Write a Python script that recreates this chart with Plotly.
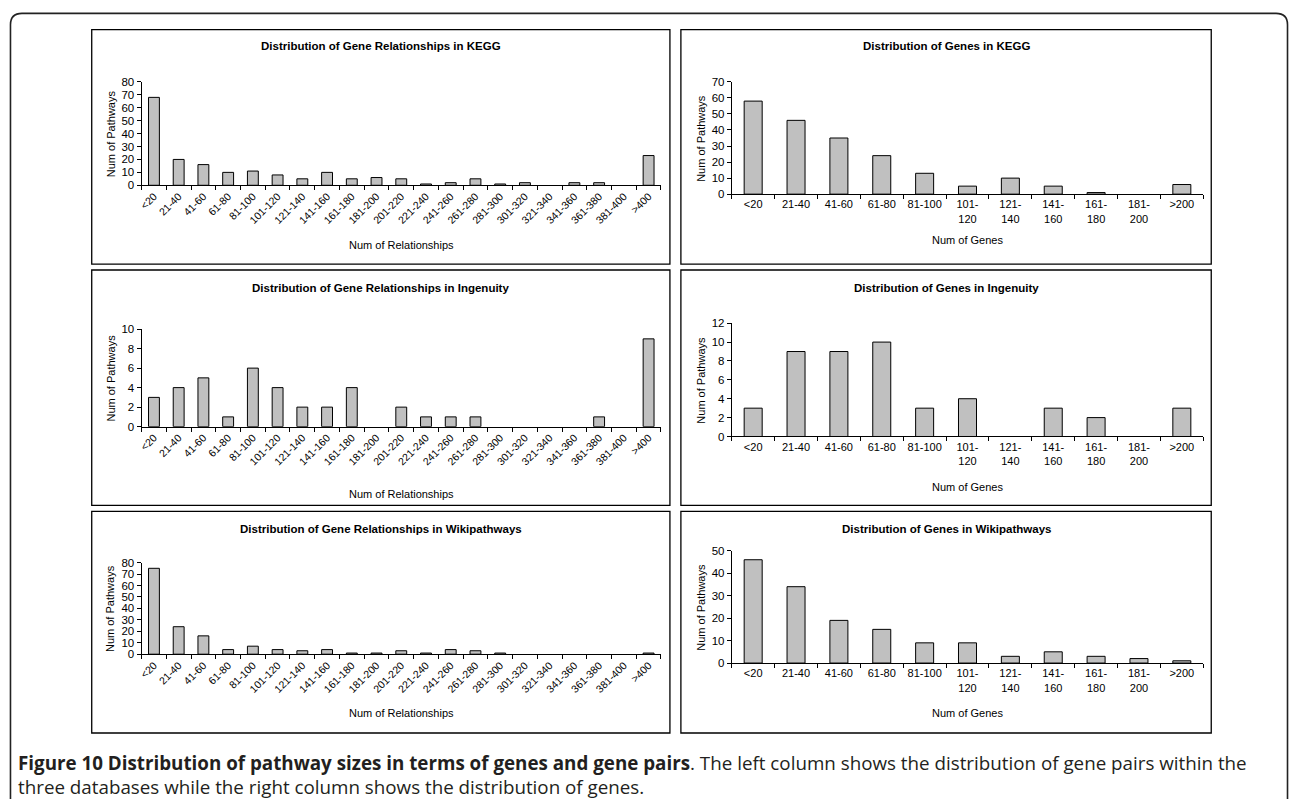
import plotly.graph_objects as go

W, H = 1289, 805

# ---------------- data ----------------
rel_cats = ["<20", "21-40", "41-60", "61-80", "81-100", "101-120", "121-140", "141-160",
            "161-180", "181-200", "201-220", "221-240", "241-260", "261-280", "281-300",
            "301-320", "321-340", "341-360", "361-380", "381-400", ">400"]
gene_cats = ["<20", "21-40", "41-60", "61-80", "81-100", "101-120", "121-140", "141-160",
             "161-180", "181-200", ">200"]
gene_ticktext = ["<20", "21-40", "41-60", "61-80", "81-100", "101-<br>120", "121-<br>140",
                 "141-<br>160", "161-<br>180", "181-<br>200", ">200"]

kegg_rel = [68, 20, 16, 10, 11, 8, 5, 10, 5, 6, 5, 1, 2, 5, 1, 2, 0, 2, 2, 0, 23]
ing_rel = [3, 4, 5, 1, 6, 4, 2, 2, 4, 0, 2, 1, 1, 1, 0, 0, 0, 0, 1, 0, 9]
wiki_rel = [75, 24, 16, 4, 7, 4, 3, 4, 1, 1, 3, 1, 4, 3, 1, 0, 0, 0, 0, 0, 1]

kegg_gene = [58, 46, 35, 24, 13, 5, 10, 5, 1, 0, 6]
ing_gene = [3, 9, 9, 10, 3, 4, 0, 3, 2, 0, 3]
wiki_gene = [46, 34, 19, 15, 9, 9, 3, 5, 3, 2, 1]

titles_left = ["Distribution of Gene Relationships in KEGG",
               "Distribution of Gene Relationships in Ingenuity",
               "Distribution of Gene Relationships in Wikipathways"]
titles_right = ["Distribution of Genes in KEGG",
                "Distribution of Genes in Ingenuity",
                "Distribution of Genes in Wikipathways"]
y_title = "Num of Pathways"
x_title_left = "Num of Relationships"
x_title_right = "Num of Genes"
caption_bold = "Figure 10 Distribution of pathway sizes in terms of genes and gene pairs"
caption_rest1 = ". The left column shows the distribution of gene pairs within the"
caption_line2 = "three databases while the right column shows the distribution of genes."

# ---------------- helpers (pixel -> paper) ----------------
def px(x):
    return x / W

def py(y):
    return 1 - y / H

FONT = "Arial, Liberation Sans, sans-serif"
BAR_FILL = "#c0c0c0"

fig = go.Figure()

panels = [
    (kegg_rel, rel_cats, rel_cats, 80, 10, (138, 659), (77, 182), (88, 24, 668, 262), 41, 243, -45, 0.44, "L"),
    (kegg_gene, gene_cats, gene_ticktext, 70, 10, (730, 1203), (77, 191), (679, 24, 1211, 262), 41, 238, 0, 0.42, "R"),
    (ing_rel, rel_cats, rel_cats, 10, 2, (138, 659), (328, 427), (88, 268, 668, 507), 286, 495, -45, 0.44, "L"),
    (ing_gene, gene_cats, gene_ticktext, 12, 2, (730, 1203), (322, 437), (679, 268, 1211, 507), 286, 488, 0, 0.42, "R"),
    (wiki_rel, rel_cats, rel_cats, 80, 10, (138, 659), (565, 658), (88, 513, 668, 738), 531, 718, -45, 0.44, "L"),
    (wiki_gene, gene_cats, gene_ticktext, 50, 10, (730, 1203), (553, 667), (679, 513, 1211, 738), 531, 718, 0, 0.42, "R"),
]
titles = [titles_left[0], titles_right[0], titles_left[1], titles_right[1], titles_left[2], titles_right[2]]

shapes = []
annotations = []
layout_axes = {}

for i, (vals, cats, ttext, ymax, dt, xd, yd, box, ty, xty, ang, bw, side) in enumerate(panels):
    n = i + 1
    xa = "x" if n == 1 else f"x{n}"
    ya = "y" if n == 1 else f"y{n}"
    fig.add_trace(go.Bar(
        x=cats, y=vals, xaxis=xa, yaxis=ya, width=bw,
        marker=dict(color=BAR_FILL,
                    line=dict(color="black", width=[0 if v == 0 else 1 for v in vals])),
        showlegend=False, hoverinfo="x+y"))
    xkey = "xaxis" if n == 1 else f"xaxis{n}"
    ykey = "yaxis" if n == 1 else f"yaxis{n}"
    layout_axes[xkey] = dict(
        domain=[px(xd[0]), px(xd[1])], anchor=ya, type="category",
        categoryorder="array", categoryarray=cats,
        tickmode="array", tickvals=cats, ticktext=ttext,
        range=[-0.5, len(cats) - 0.5], showline=True, linecolor="black", linewidth=1,
        ticks="outside", ticklen=4, tickcolor="black", tickwidth=1, tickson="boundaries",
        showgrid=False, zeroline=False, tickangle=ang,
        tickfont=dict(family=FONT, size=10.5 if side == "L" else 11, color="black"),
        fixedrange=True)
    layout_axes[ykey] = dict(
        domain=[py(yd[1]), py(yd[0])], anchor=xa, range=[0, ymax], dtick=dt,
        showline=True, linecolor="black", linewidth=1, ticks="outside", ticklen=4,
        tickcolor="black", showgrid=False, zeroline=False,
        tickfont=dict(family=FONT, size=11.5, color="black"), fixedrange=True)
    shapes.append(dict(type="rect", xref="paper", yref="paper",
                       x0=px(box[0]), x1=px(box[2]), y0=py(box[3]), y1=py(box[1]),
                       line=dict(color="black", width=1.3), layer="below"))
    annotations.append(dict(text=f"<b>{titles[i]}</b>", xref="paper", yref="paper",
                            x=px((box[0] + box[2]) / 2), y=py(ty), xanchor="center", yanchor="middle",
                            showarrow=False, font=dict(family=FONT, size=11.5, color="black")))
    annotations.append(dict(text=x_title_left if side == "L" else x_title_right,
                            xref="paper", yref="paper",
                            x=px((xd[0] + xd[1]) / 2), y=py(xty), xanchor="center", yanchor="middle",
                            showarrow=False, font=dict(family=FONT, size=11, color="black")))
    annotations.append(dict(text=y_title, xref="paper", yref="paper", textangle=-90,
                            x=px(xd[0] - 31), y=py((yd[0] + yd[1]) / 2), xanchor="center", yanchor="middle",
                            showarrow=False, font=dict(family=FONT, size=11, color="black")))

# outer rounded frame
def pt(x, y):
    return f"{px(x):.5f},{py(y):.5f}"

frame_path = (f"M {pt(6.5, 805)} L {pt(6.5, 19)} Q {pt(6.5, 7.5)} {pt(18, 7.5)} "
              f"L {pt(1276, 7.5)} Q {pt(1287.5, 7.5)} {pt(1287.5, 19)} L {pt(1287.5, 805)}")
shapes.append(dict(type="path", xref="paper", yref="paper", path=frame_path,
                   line=dict(color="#222222", width=1.6)))

# caption (two lines in one text block)
CAP_FONT = "Open Sans, Noto Sans, sans-serif"
annotations.append(dict(text=f"<b>{caption_bold}</b>{caption_rest1}<br>{caption_line2}",
                        xref="paper", yref="paper", align="left",
                        x=px(12), y=py(780.5), xanchor="left", yanchor="middle", showarrow=False,
                        font=dict(family=CAP_FONT, size=18.8, color="#231f20")))

fig.update_layout(
    width=W, height=H, autosize=False,
    margin=dict(l=0, r=0, t=0, b=0),
    paper_bgcolor="white", plot_bgcolor="rgba(0,0,0,0)",
    shapes=shapes, annotations=annotations,
    font=dict(family=FONT, color="black"),
    **layout_axes)

fig.write_html("out.html", post_script="document.body.style.margin='0';",
               config={"displayModeBar": False})
